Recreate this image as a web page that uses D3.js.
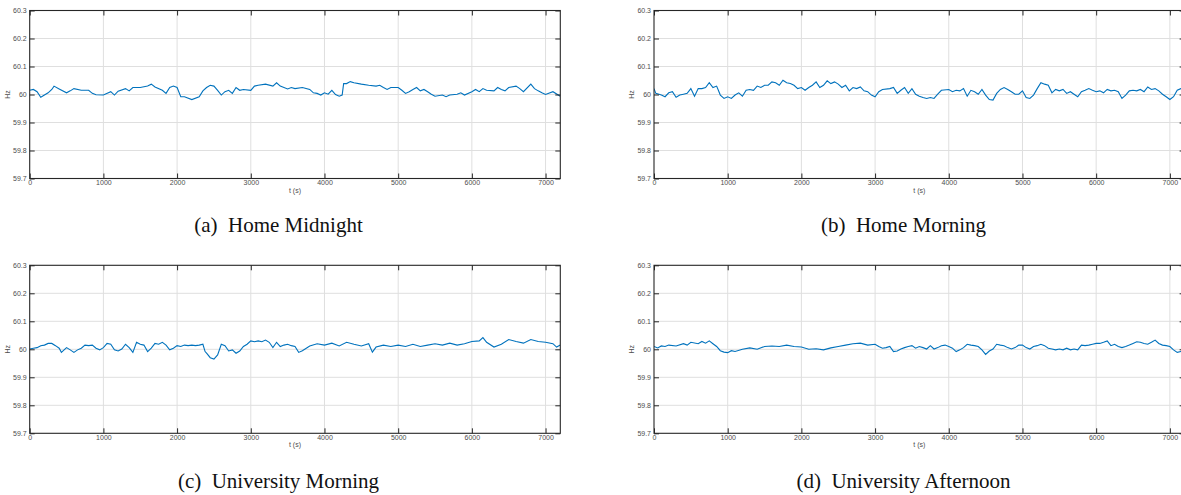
<!DOCTYPE html>
<html>
<head>
<meta charset="utf-8">
<script src="https://cdn.jsdelivr.net/npm/d3@7"></script>
<style>
  body { margin: 0; background: #fff; }
  svg { display: block; }
  .tick text { font-family: "Liberation Sans", Arial, sans-serif; font-size: 7px; fill: #4d4d4d; }
  .cap { font-family: "Liberation Serif", "Times New Roman", serif; font-size: 21px; fill: #111; }
</style>
</head>
<body>
<svg id="fig" width="1181" height="495"></svg>
<script>
// frequency traces, [t (s), Hz]
const homeMidnight = [[0,60.015],[50,60.018],[100,60.01],[150,59.99],[200,59.998],[250,60.006],[300,60.018],[330,60.03],[400,60.02],[500,60.006],[550,60.013],[600,60.021],[700,60.015],[800,60.015],[850,60.004],[900,59.999],[1000,59.998],[1100,60.01],[1150,59.998],[1200,60.012],[1300,60.021],[1350,60.013],[1400,60.025],[1500,60.025],[1600,60.03],[1650,60.037],[1700,60.027],[1800,60.015],[1850,60.004],[1900,60.025],[1950,60.03],[2000,60.025],[2050,59.992],[2100,59.992],[2200,59.982],[2300,59.992],[2350,60.013],[2400,60.025],[2450,60.033],[2500,60.03],[2550,60.015],[2600,59.998],[2650,60.01],[2700,60.015],[2750,60.004],[2800,60.025],[2850,60.015],[2900,60.018],[3000,60.015],[3050,60.03],[3100,60.033],[3200,60.037],[3300,60.03],[3350,60.042],[3400,60.03],[3500,60.02],[3550,60.025],[3600,60.021],[3700,60.025],[3800,60.018],[3850,60.006],[3900,60.004],[3950,59.998],[4000,60.006],[4050,60.001],[4100,60.015],[4150,60.0],[4200,59.994],[4240,59.998],[4260,60.039],[4300,60.039],[4350,60.046],[4400,60.042],[4500,60.037],[4600,60.033],[4700,60.03],[4750,60.033],[4800,60.025],[4850,60.018],[4900,60.025],[5000,60.025],[5050,60.015],[5100,60.004],[5150,60.01],[5200,60.018],[5250,60.025],[5300,60.013],[5350,60.018],[5400,60.01],[5450,60.001],[5500,59.994],[5600,59.998],[5650,59.992],[5700,59.998],[5800,60.001],[5850,60.006],[5900,59.998],[6000,60.01],[6050,60.018],[6100,60.01],[6150,60.021],[6200,60.015],[6300,60.013],[6350,60.025],[6400,60.018],[6450,60.013],[6500,60.025],[6600,60.03],[6650,60.021],[6700,60.01],[6800,60.037],[6850,60.021],[6900,60.013],[6950,60.006],[7000,60.0],[7100,60.01],[7200,59.994]];

const homeMorning = [[0,60.021],[25,60.004],[100,59.998],[150,59.992],[200,60.006],[250,60.01],[300,59.99],[350,59.998],[400,60.001],[450,60.004],[500,60.021],[550,59.994],[600,60.021],[650,60.021],[700,60.025],[750,60.042],[800,60.025],[850,60.03],[900,59.998],[950,59.986],[1000,59.992],[1050,59.986],[1100,59.998],[1150,60.006],[1200,59.994],[1250,60.015],[1300,60.018],[1350,60.015],[1400,60.03],[1450,60.025],[1500,60.033],[1550,60.033],[1600,60.045],[1650,60.042],[1700,60.033],[1750,60.051],[1800,60.042],[1850,60.039],[1900,60.033],[1950,60.021],[2000,60.025],[2050,60.015],[2100,60.025],[2150,60.033],[2200,60.045],[2250,60.025],[2300,60.033],[2350,60.049],[2400,60.039],[2450,60.045],[2500,60.037],[2550,60.025],[2600,60.033],[2650,60.013],[2700,60.025],[2750,60.021],[2800,60.027],[2850,60.013],[2900,60.01],[2950,59.998],[3000,59.992],[3050,60.01],[3100,60.018],[3200,60.021],[3250,60.025],[3300,60.004],[3350,60.015],[3400,60.025],[3450,60.004],[3500,60.021],[3550,60.001],[3600,59.994],[3650,59.989],[3700,59.986],[3750,59.989],[3800,59.986],[3850,60.001],[3900,60.015],[4000,60.018],[4050,60.01],[4100,60.015],[4150,60.013],[4200,60.021],[4250,59.994],[4300,60.015],[4350,60.01],[4400,60.001],[4450,60.018],[4500,59.998],[4550,59.982],[4600,59.98],[4650,60.004],[4700,60.018],[4750,60.025],[4800,60.018],[4850,60.01],[4900,60.001],[4950,60.001],[5000,60.013],[5050,59.989],[5100,59.986],[5150,59.998],[5200,60.021],[5250,60.042],[5300,60.037],[5350,60.033],[5400,60.006],[5450,60.018],[5500,60.013],[5550,60.018],[5600,60.004],[5650,60.01],[5700,60.001],[5750,59.992],[5800,60.01],[5850,60.015],[5900,60.021],[5950,60.015],[6000,60.01],[6050,60.013],[6100,60.006],[6150,60.018],[6200,60.013],[6250,60.015],[6300,60.01],[6350,59.986],[6400,59.998],[6450,60.013],[6500,60.015],[6550,60.013],[6600,60.018],[6650,60.01],[6700,60.027],[6750,60.018],[6800,60.021],[6850,60.013],[6900,60.001],[6950,59.992],[7000,59.982],[7050,59.992],[7100,60.015],[7150,60.021],[7200,60.025]];

const uniMorning = [[0,60.001],[50,60.004],[100,60.006],[150,60.013],[200,60.015],[250,60.021],[300,60.021],[350,60.013],[400,60.004],[430,59.989],[500,60.006],[550,59.998],[600,59.989],[650,59.998],[700,60.004],[750,60.015],[800,60.013],[850,60.015],[900,60.004],[950,59.998],[1000,60.006],[1050,60.021],[1100,60.018],[1150,59.998],[1200,59.994],[1250,60.001],[1300,60.018],[1350,60.006],[1400,59.989],[1450,60.025],[1500,60.018],[1550,60.015],[1600,59.992],[1650,60.004],[1700,60.021],[1750,60.018],[1800,60.025],[1850,60.015],[1900,59.998],[1950,60.004],[2000,60.013],[2050,60.01],[2100,60.015],[2150,60.013],[2200,60.015],[2250,60.013],[2300,60.015],[2350,60.018],[2380,59.992],[2400,59.986],[2450,59.97],[2500,59.965],[2550,59.98],[2600,60.018],[2650,60.013],[2700,59.994],[2750,59.998],[2800,59.986],[2850,59.994],[2900,60.01],[2950,60.018],[3000,60.03],[3050,60.027],[3100,60.03],[3150,60.027],[3200,60.033],[3250,60.025],[3300,60.006],[3350,60.025],[3400,60.01],[3450,60.015],[3500,60.018],[3550,60.013],[3600,60.01],[3650,59.989],[3700,59.995],[3800,60.012],[3900,60.02],[4000,60.015],[4100,60.022],[4200,60.012],[4300,60.025],[4400,60.018],[4500,60.012],[4600,60.02],[4650,59.99],[4700,60.008],[4800,60.015],[4900,60.01],[5000,60.015],[5100,60.01],[5200,60.018],[5300,60.01],[5400,60.015],[5500,60.02],[5600,60.015],[5700,60.022],[5800,60.015],[5900,60.02],[6000,60.028],[6100,60.03],[6150,60.042],[6200,60.025],[6300,60.008],[6400,60.018],[6500,60.035],[6600,60.028],[6700,60.022],[6800,60.035],[6900,60.028],[7000,60.025],[7100,60.02],[7150,60.008],[7200,60.015]];

const uniAfternoon = [[0,60.01],[50,60.005],[100,60.012],[150,60.01],[200,60.015],[300,60.012],[400,60.02],[450,60.015],[500,60.025],[600,60.02],[650,60.028],[700,60.022],[750,60.03],[800,60.02],[850,60.01],[900,59.995],[950,59.99],[1000,59.988],[1050,59.995],[1100,59.992],[1200,60.0],[1300,60.005],[1400,60.0],[1500,60.01],[1600,60.012],[1700,60.01],[1800,60.015],[1900,60.01],[2000,60.008],[2100,60.0],[2200,60.002],[2300,59.998],[2400,60.005],[2500,60.01],[2600,60.015],[2700,60.02],[2800,60.022],[2900,60.015],[3000,60.018],[3050,60.01],[3100,60.004],[3150,60.006],[3200,60.01],[3250,59.992],[3300,59.994],[3350,60.001],[3400,60.006],[3450,60.01],[3500,60.013],[3550,60.004],[3600,60.01],[3650,60.006],[3700,60.001],[3750,60.013],[3800,60.001],[3850,60.006],[3900,60.013],[3950,60.015],[4000,60.01],[4050,60.004],[4100,59.992],[4150,59.998],[4200,60.006],[4250,60.018],[4300,60.015],[4350,60.013],[4400,60.01],[4450,59.998],[4500,59.982],[4550,59.994],[4600,60.001],[4650,60.018],[4700,60.015],[4750,60.013],[4800,60.006],[4850,60.001],[4900,60.006],[4950,60.015],[5000,60.015],[5050,60.006],[5100,60.001],[5150,60.01],[5200,60.013],[5250,60.018],[5300,60.013],[5350,60.004],[5400,60.001],[5450,59.998],[5500,60.001],[5550,59.998],[5600,60.004],[5650,59.998],[5700,60.001],[5750,59.998],[5800,60.015],[5850,60.013],[5900,60.015],[5950,60.018],[6000,60.021],[6050,60.021],[6100,60.025],[6150,60.03],[6200,60.013],[6250,60.018],[6300,60.01],[6350,60.006],[6400,60.01],[6450,60.015],[6500,60.021],[6550,60.027],[6600,60.025],[6650,60.021],[6700,60.018],[6750,60.025],[6800,60.033],[6850,60.021],[6900,60.015],[6950,60.013],[7000,60.01],[7050,59.998],[7100,59.989],[7150,59.992],[7200,59.994]];

const xTicks = [0, 1000, 2000, 3000, 4000, 5000, 6000, 7000];
const yTicks = [59.7, 59.8, 59.9, 60, 60.1, 60.2, 60.3];
const captionTags = ["(a)", "(b)", "(c)", "(d)"];
const captionNames = ["Home Midnight", "Home Morning", "University Morning", "University Afternoon"];
const series = [homeMidnight, homeMorning, uniMorning, uniAfternoon];

const svg = d3.select("#fig");
svg.append("rect").attr("width", 1181).attr("height", 495).attr("fill", "#fff");

// panel frame sizes (pixels)
const pw = 530.6, ph = 168;
const colX = [29.7, 654], rowY = [10.5, 265.3];
const capCX = [278.5, 903.5], capY = [232, 488];

const x = d3.scaleLinear().domain([0, 7200]).range([0, pw]);
const y = d3.scaleLinear().domain([59.7, 60.3]).range([ph, 0]);
const fmtY = d => String(+d.toFixed(1));

const line = d3.line().x(d => x(d[0])).y(d => y(d[1]));

series.forEach((data, i) => {
  const col = i % 2, row = Math.floor(i / 2);
  const g = svg.append("g").attr("transform", `translate(${colX[col]},${rowY[row]})`);

  // grid
  g.append("g").selectAll("line.gx").data(xTicks.filter(t => t > 0)).join("line")
    .attr("x1", d => x(d)).attr("x2", d => x(d)).attr("y1", 0).attr("y2", ph)
    .attr("stroke", "#dfdfdf").attr("stroke-width", 1);
  g.append("g").selectAll("line.gy").data(yTicks.slice(1, -1)).join("line")
    .attr("x1", 0).attr("x2", pw).attr("y1", d => y(d)).attr("y2", d => y(d))
    .attr("stroke", "#dfdfdf").attr("stroke-width", 1);

  // trace
  const cid = "clip" + i;
  g.append("clipPath").attr("id", cid).append("rect").attr("width", pw).attr("height", ph);
  g.append("path").datum(data).attr("clip-path", `url(#${cid})`)
    .attr("d", line).attr("fill", "none").attr("stroke", "#0072BD").attr("stroke-width", 1.1);

  // axes, ticks pointing inward
  const ax = g.append("g").attr("transform", `translate(0,${ph})`)
    .call(d3.axisBottom(x).tickValues(xTicks).tickSize(-5).tickPadding(2).tickFormat(d3.format("d")));
  const ay = g.append("g")
    .call(d3.axisLeft(y).tickValues(yTicks).tickSize(-5).tickPadding(3).tickFormat(fmtY));
  const at = g.append("g").call(d3.axisTop(x).tickValues(xTicks).tickSize(-5).tickFormat(""));
  const ar = g.append("g").attr("transform", `translate(${pw},0)`)
    .call(d3.axisRight(y).tickValues(yTicks).tickSize(-5).tickFormat(""));
  [ax, ay, at, ar].forEach(a => {
    a.select(".domain").remove();
    a.selectAll(".tick line").attr("stroke", "#262626");
    a.attr("font-family", null).attr("font-size", null);
  });

  g.append("rect").attr("width", pw).attr("height", ph)
    .attr("fill", "none").attr("stroke", "#262626").attr("stroke-width", 1.1);

  g.append("text").attr("x", x(3600)).attr("y", ph + 14)
    .attr("text-anchor", "middle")
    .style("font-family", "Liberation Sans, Arial, sans-serif").style("font-size", "7px").style("fill", "#4d4d4d")
    .text("t (s)");
  g.append("text").attr("transform", `translate(-22,${y(60)}) rotate(-90)`)
    .attr("text-anchor", "middle").attr("dy", "0.35em")
    .style("font-family", "Liberation Sans, Arial, sans-serif").style("font-size", "7px").style("fill", "#4d4d4d")
    .text("Hz");

  svg.append("text").attr("class", "cap")
    .attr("x", capCX[col]).attr("y", capY[row]).attr("text-anchor", "middle")
    .text(captionTags[i] + "\u2002" + captionNames[i]);
});
</script>
</body>
</html>
